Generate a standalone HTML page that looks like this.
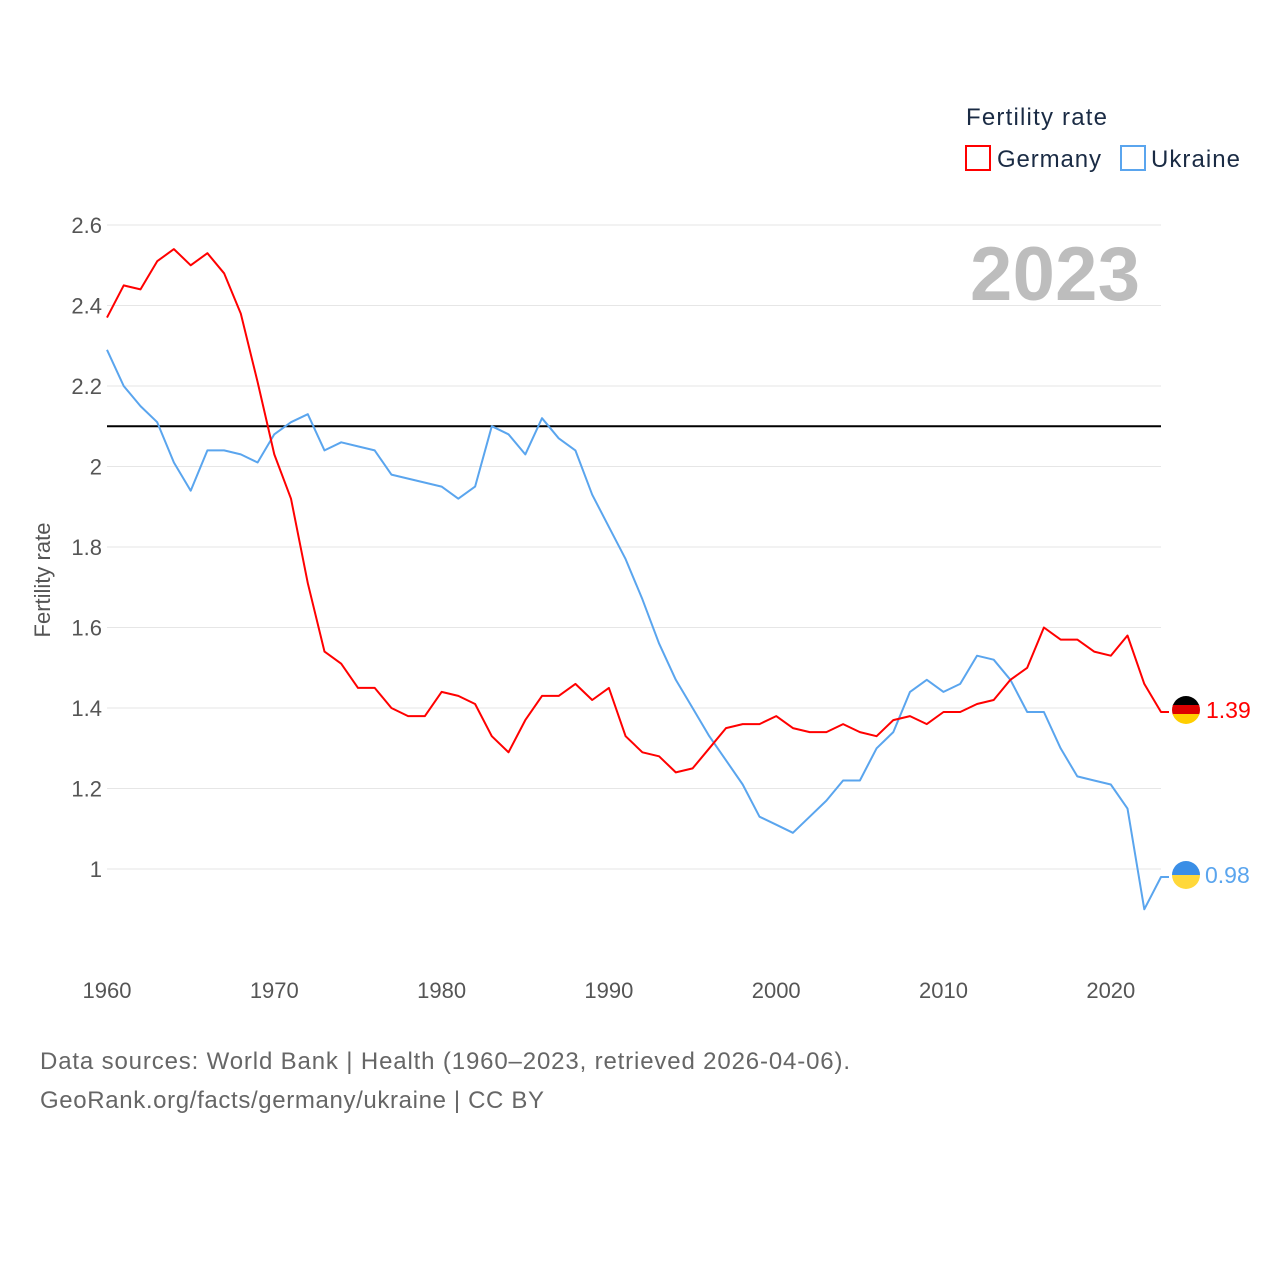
<!DOCTYPE html>
<html><head><meta charset="utf-8"><style>
body{margin:0;background:#fff;font-family:"Liberation Sans",sans-serif}
svg text{font-family:"Liberation Sans",sans-serif}
</style></head><body>
<svg id="chart" width="1280" height="1280" viewBox="0 0 1280 1280">
<defs>
<clipPath id="cde"><circle cx="1186" cy="710" r="14"/></clipPath>
<clipPath id="cua"><circle cx="1186" cy="875" r="14"/></clipPath>
</defs>
<g id="grid"></g>
<g id="lines"></g>
<text x="966" y="125" font-size="24" fill="#1a2b44" textLength="141">Fertility rate</text>
<g>
<rect x="966" y="146" width="24" height="24" fill="none" stroke="#ff0000" stroke-width="2"/>
<text x="997" y="167" font-size="24" fill="#1a2b44" textLength="104">Germany</text></g>
<g>
<rect x="1121" y="146" width="24" height="24" fill="none" stroke="#5aa5ee" stroke-width="2"/>
<text x="1151" y="167" font-size="24" fill="#1a2b44" textLength="89">Ukraine</text></g>
<text x="1140" y="300" font-size="76" font-weight="bold" fill="#bdbdbd" text-anchor="end" textLength="170">2023</text>
<text transform="translate(50,580) rotate(-90)" font-size="22" fill="#555" text-anchor="middle">Fertility rate</text>
<g clip-path="url(#cde)">
<rect x="1172" y="696" width="28" height="10" fill="#000"/><rect x="1172" y="705" width="28" height="10" fill="#dd0000"/><rect x="1172" y="714" width="28" height="10" fill="#ffce00"/></g>
<g clip-path="url(#cua)">
<rect x="1172" y="861" width="28" height="14" fill="#3a8ee6"/><rect x="1172" y="875" width="28" height="14" fill="#ffd83a"/></g>
<text x="1206" y="718" font-size="23" fill="#ff0000">1.39</text>
<text x="1205" y="883" font-size="23" fill="#5aa5ee">0.98</text>
<text x="40" y="1069" font-size="24" fill="#666" textLength="810">Data sources: World Bank | Health (1960–2023, retrieved 2026-04-06).</text>
<text x="40" y="1108" font-size="24" fill="#666" textLength="504">GeoRank.org/facts/germany/ukraine | CC BY</text>
</svg>
<script>
const years=[];for(let y=1960;y<=2023;y++)years.push(y);
const germany=[2.37,2.45,2.44,2.51,2.54,2.50,2.53,2.48,2.38,2.21,2.03,1.92,1.71,1.54,1.51,1.45,1.45,1.40,1.38,1.38,1.44,1.43,1.41,1.33,1.29,1.37,1.43,1.43,1.46,1.42,1.45,1.33,1.29,1.28,1.24,1.25,1.30,1.35,1.36,1.36,1.38,1.35,1.34,1.34,1.36,1.34,1.33,1.37,1.38,1.36,1.39,1.39,1.41,1.42,1.47,1.50,1.60,1.57,1.57,1.54,1.53,1.58,1.46,1.39];
const ukraine=[2.29,2.20,2.15,2.11,2.01,1.94,2.04,2.04,2.03,2.01,2.08,2.11,2.13,2.04,2.06,2.05,2.04,1.98,1.97,1.96,1.95,1.92,1.95,2.10,2.08,2.03,2.12,2.07,2.04,1.93,1.85,1.77,1.67,1.56,1.47,1.40,1.33,1.27,1.21,1.13,1.11,1.09,1.13,1.17,1.22,1.22,1.30,1.34,1.44,1.47,1.44,1.46,1.53,1.52,1.47,1.39,1.39,1.30,1.23,1.22,1.21,1.15,0.90,0.98];
const yTicks=[1,1.2,1.4,1.6,1.8,2,2.2,2.4,2.6];
const xTicks=[1960,1970,1980,1990,2000,2010,2020];
const replacement=[2.1];
const NS='http://www.w3.org/2000/svg';
const xs=y=>107+(y-1960)*(1161-107)/63;
const ys=v=>869-(v-1)*(644/1.6);
const grid=document.getElementById('grid'),lines=document.getElementById('lines');
function mk(t,a,p){const e=document.createElementNS(NS,t);for(const k in a)e.setAttribute(k,a[k]);p.appendChild(e);return e;}
yTicks.forEach(v=>{
 const l=mk('line',{x1:107,x2:1161,y1:ys(v),y2:ys(v),stroke:'#e6e6e6','stroke-width':1},grid);
 
 
 const t=mk('text',{x:102,y:ys(v)+8,'font-size':22,fill:'#555','text-anchor':'end'},grid);t.textContent=String(v);
 
 
});
xTicks.forEach(v=>{
 const t=mk('text',{x:xs(v),y:998,'font-size':22,fill:'#555','text-anchor':'middle'},grid);t.textContent=String(v);
 
 
});
const rl=mk('line',{x1:107,x2:1161,y1:ys(replacement[0]),y2:ys(replacement[0]),stroke:'#000','stroke-width':2},lines);


function path(data,color,name){
 const d=data.map((v,i)=>(i?'L':'M')+xs(years[i]).toFixed(1)+','+ys(v).toFixed(1)).join('')+'h8';
 const p=mk('path',{d:d,fill:'none',stroke:color,'stroke-width':2,'stroke-linejoin':'round'},lines);
 
 
}
path(ukraine,'#5aa5ee','ukraine-line');
path(germany,'#ff0000','germany-line');
</script>
</body></html>
